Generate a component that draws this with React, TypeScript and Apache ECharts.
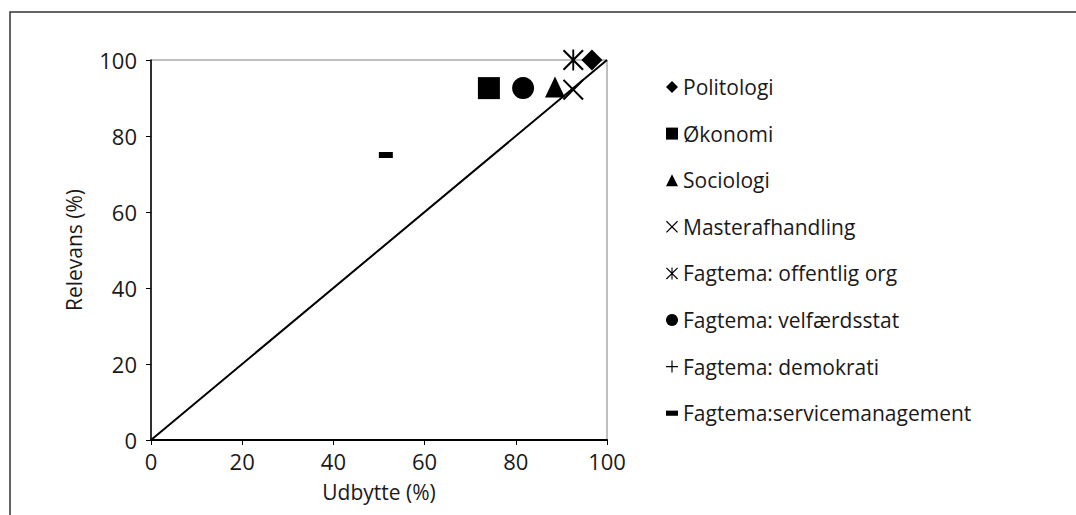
import React, { useEffect, useRef } from "react";
import * as echarts from "echarts";

const categories = [
  "Politologi",
  "Økonomi",
  "Sociologi",
  "Masterafhandling",
  "Fagtema: offentlig org",
  "Fagtema: velfærdsstat",
  "Fagtema: demokrati",
  "Fagtema:servicemanagement",
];
const udbytte = [96.7, 74.1, 88.6, 92.6, 92.6, 81.6, 81.6, 51.5];
const relevans = [100, 92.6, 92.9, 92.2, 100, 92.6, 92.6, 75];
const diagonalX = [0, 100];
const diagonalY = [0, 100];
const xTicks = [0, 20, 40, 60, 80, 100];

const X_PATH =
  "path://M0,0.7 L0.7,0 L5,4.3 L9.3,0 L10,0.7 L5.7,5 L10,9.3 L9.3,10 L5,5.7 L0.7,10 L0,9.3 L4.3,5 Z";
const AST_PATH =
  "path://M0,0.7 L0.7,0 L5,4.3 L9.3,0 L10,0.7 L5.7,5 L10,9.3 L9.3,10 L5,5.7 L0.7,10 L0,9.3 L4.3,5 Z M4.55,0 L5.45,0 L5.45,10 L4.55,10 Z";
const PLUS_PATH =
  "path://M4.5,0 L5.5,0 L5.5,4.5 L10,4.5 L10,5.5 L5.5,5.5 L5.5,10 L4.5,10 L4.5,5.5 L0,5.5 L0,4.5 L4.5,4.5 Z";
const DASH_PATH = "path://M0,0 L7,0 L7,3 L0,3 Z";

const symbols: any[] = ["diamond", "rect", "triangle", X_PATH, AST_PATH, "circle", PLUS_PATH, DASH_PATH];
const sizes: any[] = [[21, 21], [22, 22], [20, 21], [21, 21], [21, 21], [22, 22], [20, 20], [14, 6]];
const zs = [3, 3, 3, 3, 3, 4, 2, 3];

const FONT = "Open Sans";
const TXT = "#1a1a1a";

export default function App() {
  const ref = useRef<HTMLDivElement>(null);
  useEffect(() => {
    document.body.style.margin = "0";
    if (!ref.current) return;
    const chart = echarts.init(ref.current, undefined, { renderer: "svg" });
    const scatterSeries = categories.map((name, i) => ({
      name,
      type: "scatter",
      data: [[udbytte[i], relevans[i]]],
      symbol: symbols[i],
      symbolSize: sizes[i],
      z: zs[i],
      itemStyle: { color: "#000", opacity: 1 },
      emphasis: { disabled: true },
    }));
    chart.setOption({
      animation: false,
      backgroundColor: "#fff",
      textStyle: { fontFamily: FONT },
      grid: {
        left: 151,
        top: 60,
        width: 456,
        height: 380,
        show: true,
        borderColor: "#808080",
        borderWidth: 1,
        backgroundColor: "transparent",
      },
      graphic: [
        {
          type: "rect",
          shape: { x: 10, y: 12, width: 1200, height: 700 },
          style: { fill: "none", stroke: "#333", lineWidth: 1.5 },
          silent: true,
          z: -1,
        },
      ],
      legend: {
        orient: "vertical",
        left: 666,
        top: 76,
        padding: 0,
        itemWidth: 12,
        itemHeight: 12,
        itemGap: 24.6,
        data: categories,
        selectedMode: false,
        textStyle: {
          fontFamily: FONT,
          fontSize: 21,
          color: TXT,
          lineHeight: 22,
        },
      },
      xAxis: {
        type: "value",
        min: 0,
        max: 100,
        interval: 20,
        name: "Udbytte (%)",
        nameLocation: "middle",
        nameGap: 41,
        nameTextStyle: { fontFamily: FONT, fontSize: 21, color: TXT },
        axisLine: { show: true, lineStyle: { color: "#000", width: 2 } },
        axisTick: { show: true, length: 5, lineStyle: { color: "#000", width: 1 } },
        axisLabel: {
          fontFamily: FONT,
          fontSize: 22,
          color: TXT,
          margin: 10,
          formatter: (v: number) => (xTicks.includes(v) ? String(v) : ""),
        },
        splitLine: { show: false },
      },
      yAxis: {
        type: "value",
        min: 0,
        max: 100,
        interval: 20,
        name: "Relevans (%)",
        nameLocation: "middle",
        nameGap: 67,
        nameTextStyle: { fontFamily: FONT, fontSize: 21, color: TXT },
        axisLine: { show: true, lineStyle: { color: "#000", width: 1.5 } },
        axisTick: { show: true, length: 5, lineStyle: { color: "#000", width: 1 } },
        axisLabel: { fontFamily: FONT, fontSize: 22, color: TXT, margin: 14 },
        splitLine: { show: false },
      },
      series: [
        {
          name: "diagonal",
          type: "line",
          data: diagonalX.map((x, i) => [x, diagonalY[i]]),
          symbol: "none",
          lineStyle: { color: "#000", width: 2 },
          z: 1,
          silent: true,
        },
        ...scatterSeries,
      ],
    });
    return () => chart.dispose();
  }, []);
  return <div ref={ref} style={{ width: 1076, height: 515 }} />;
}
